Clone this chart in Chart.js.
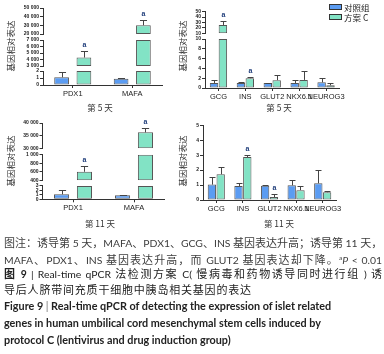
<!DOCTYPE html>
<html>
<head>
<meta charset="utf-8">
<script src="https://cdn.jsdelivr.net/npm/chart.js@4.4.0/dist/chart.umd.min.js"></script>
<style>
body{margin:0;width:384px;height:354px;overflow:hidden;background:#fff;position:relative;font-family:"Lato","Noto Sans CJK SC",sans-serif;}
canvas{position:absolute;}
.yt{position:absolute;font-family:"Noto Sans CJK SC";font-size:8.5px;color:#333;transform:translate(-50%,-50%) rotate(-90deg);white-space:nowrap;}
.xt{position:absolute;font-family:"Noto Sans CJK SC";font-size:8.5px;color:#333;transform:translate(-50%,-50%);white-space:nowrap;}
.lg{position:absolute;left:329px;font-family:"Noto Sans CJK SC";font-size:8.5px;color:#222;line-height:10px;white-space:nowrap;}
.lg span{display:inline-block;width:11px;height:4px;border:1px solid #333;margin-right:2px;vertical-align:1px;}
.cap{position:absolute;left:4px;font-family:"Noto Sans CJK SC";font-size:11px;line-height:13px;white-space:nowrap;}
.cap .e{font-family:"Lato";font-size:10.4px;}
.j{width:378px;text-align:justify;text-align-last:justify;}
.l1{color:#3c3c3c;}
.l2{color:#222;}
.en{font-family:"Lato";font-size:10.8px;font-weight:bold;color:#222;}
</style>
</head>
<body>
<canvas id="c5a" width="170" height="112" style="left:0;top:0"></canvas>
<canvas id="c5b" width="194" height="112" style="left:190px;top:0"></canvas>
<canvas id="c11a" width="170" height="115" style="left:0;top:112px"></canvas>
<canvas id="c11b" width="194" height="115" style="left:190px;top:112px"></canvas>

<div class="yt" style="left:9.5px;top:46px">基因相对表达</div>
<div class="yt" style="left:182px;top:46px">基因相对表达</div>
<div class="yt" style="left:9.5px;top:161px">基因相对表达</div>
<div class="yt" style="left:182px;top:161px">基因相对表达</div>
<div class="xt" style="left:100px;top:107px">第 5 天</div>
<div class="xt" style="left:279px;top:107px">第 5 天</div>
<div class="xt" style="left:100px;top:223px">第 11 天</div>
<div class="xt" style="left:279px;top:223px">第 11 天</div>

<div class="lg" style="top:2px"><span style="background:#5b9cf2"></span>对照组</div>
<div class="lg" style="top:11.5px"><span style="background:#82e3c5"></span>方案 C</div>

<div class="cap j l1" style="top:236px">图注：诱导第<span class="e"> 5 </span>天，<span class="e">MAFA</span>、<span class="e">PDX1</span>、<span class="e">GCG</span>、<span class="e">INS</span> 基因表达升高；诱导第<span class="e"> 11 </span>天，</div>
<div class="cap j l1" style="top:251px"><span class="e">MAFA</span>、<span class="e">PDX1</span>、<span class="e">INS</span> 基因表达升高，而<span class="e"> GLUT2 </span>基因表达却下降。<span class="e"><sup style="font-size:6.5px">a</sup><i>P</i> &lt; 0.01</span></div>
<div class="cap j l2" style="top:267px"><b>图<span class="e"> 9</span></b><span class="e"> | Real-time qPCR </span>法检测方案<span class="e"> C( </span>慢病毒和药物诱导同时进行组<span class="e"> ) </span>诱</div>
<div class="cap l2" style="top:283px;letter-spacing:0.8px">导后人脐带间充质干细胞中胰岛相关基因的表达</div>
<div class="cap en" style="top:299px">Figure 9 <span style="font-weight:normal;color:#777">|</span> Real-time qPCR of detecting the expression of islet related</div>
<div class="cap en" style="top:316px">genes in human umbilical cord mesenchymal stem cells induced by</div>
<div class="cap en" style="top:333px">protocol C (lentivirus and drug induction group)</div>

<script>
// day 5, PDX1 / MAFA
const genes5a = ['PDX1', 'MAFA'];
const ctrl5a = [1.1, 0.9];
const ctrl5aErr = [0.75, 0.04];
const progC5a = [4300, 30100];
const progC5aErr = [1000, 6200];
const sig5a = ['a', 'a'];
const breaks5a = [[0, 2], [3000, 7000], [20000, 50000]];
const steps5a = [1, 1000, 10000];

// day 5, other genes
const genes5b = ['GCG', 'INS', 'GLUT2', 'NKX6.1', 'NEUROG3'];
const ctrl5b = [1.0, 1.0, 1.0, 1.0, 1.15];
const ctrl5bErr = [0.6, 0.15, 0.05, 0.55, 0.9];
const progC5b = [25.4, 2.0, 1.6, 1.65, 0.55];
const progC5bErr = [6.8, 0.15, 1.1, 1.9, 0.4];
const sig5b = ['a', 'a', '', '', ''];
const breaks5b = [[0, 10], [10, 50]];
const steps5b = [2, 10];

// day 11, PDX1 / MAFA
const genes11a = ['PDX1', 'MAFA'];
const ctrl11a = [1.13, 0.9];
const ctrl11aErr = [0.9, 0.05];
const progC11a = [600, 36300];
const progC11aErr = [135, 1850];
const sig11a = ['a', 'a'];
const breaks11a = [[0, 3], [400, 1000], [30000, 40000]];
const steps11a = [1, 200, 5000];

// day 11, other genes
const genes11b = ['GCG', 'INS', 'GLUT2', 'NKX6.1', 'NEUROG3'];
const ctrl11b = [1.03, 0.94, 0.96, 0.98, 1.12];
const ctrl11bErr = [0.5, 0.18, 0.03, 0.36, 0.87];
const progC11b = [1.72, 2.88, 0.2, 0.66, 0.52];
const progC11bErr = [0.47, 0.13, 0.2, 0.28, 0.06];
const sig11b = ['', 'a', 'a', '', ''];
const breaks11b = [[0, 5]];
const steps11b = [1];

const blue = '#5b9cf2';
const mint = '#82e3c5';

function fmt(v) {
  return v >= 1000 ? String(v).replace(/\B(?=(\d{3})+(?!\d))/g, ' ') : String(v);
}

const errorBars = {
  id: 'errbars',
  afterDatasetsDraw(chart, args, opts) {
    const ctx = chart.ctx;
    const keys = Object.keys(chart.scales).filter(k => k[0] === 'y');
    const yPix = v => {
      let best = null;
      for (const k of keys) {
        const s = chart.scales[k];
        if (v >= s.min && v <= s.max) return s.getPixelForValue(v);
        if (v > s.max && (!best || s.max > best.max)) best = s;
      }
      return best ? best.getPixelForValue(best.max) : chart.chartArea.bottom;
    };
    opts.series.forEach(ser => {
      const meta = chart.getDatasetMeta(ser.first);
      ser.vals.forEach((v, i) => {
        const bar = meta.data[i];
        const x = Math.round(bar.x) + 0.5;
        const half = Math.max(3, bar.width * 0.24);
        const y0 = yPix(v), y1 = Math.round(yPix(v + ser.errs[i])) + 0.5;
        ctx.save();
        ctx.strokeStyle = '#444';
        ctx.lineWidth = 1;
        ctx.beginPath();
        ctx.moveTo(x, y0); ctx.lineTo(x, y1);
        ctx.moveTo(x - half, y1); ctx.lineTo(x + half, y1);
        ctx.stroke();
        if (ser.sig[i]) {
          ctx.fillStyle = '#1f3d7a';
          ctx.font = 'bold 7px "Liberation Sans"';
          ctx.textAlign = 'center';
          ctx.textBaseline = 'middle';
          ctx.fillText(ser.sig[i], x, y1 - 6);
        }
        ctx.restore();
      });
    });
  }
};

function drawPanel(id, genes, ctrl, ctrlErr, progC, progCErr, sig, breaks, steps, sizes, box) {
  const scales = {
    x: {
      type: 'category', offset: true,
      border: {color: '#333'},
      grid: {display: true, drawOnChartArea: false, offset: false, tickLength: 3, color: '#333'},
      ticks: {padding: 1, color: '#222', maxRotation: 0, autoSkip: false, font: {size: 7.5, family: 'Liberation Sans'}},
      afterFit: s => { s.height = box.xH; }
    }
  };
  const datasets = [];
  breaks.forEach((b, k) => {
    scales['y' + k] = {
      type: 'linear', position: 'left', stack: 'v', stackWeight: sizes[2 * k], weight: 10 + 2 * k,
      min: b[0], max: b[1], stacked: false,
      border: {color: '#333', width: 1},
      grid: {drawOnChartArea: false, tickLength: 3, color: '#333'},
      ticks: {stepSize: steps[k], autoSkip: false, padding: 1, color: '#222',
        font: {size: 5, weight: 'bold', family: 'Liberation Sans'}, callback: v => fmt(v)},
      afterFit: s => { s.width = box.axisW; }
    };
    if (k < breaks.length - 1) {
      scales['g' + k] = {type: 'linear', position: 'left', stack: 'v', stackWeight: sizes[2 * k + 1],
        weight: 11 + 2 * k, display: false, min: 0, max: 1};
    }
    [['ctrl', ctrl, blue], ['progC', progC, mint]].forEach(([name, vals, col]) => {
      datasets.push({
        label: name, stack: name, yAxisID: 'y' + k,
        data: vals.map(v => (k === 0 || v > b[0]) ? [b[0], Math.min(v, b[1])] : null),
        backgroundColor: col, borderColor: '#555', borderWidth: 1, borderSkipped: false,
        barPercentage: box.barP, categoryPercentage: box.catP
      });
    });
  });
  new Chart(document.getElementById(id), {
    type: 'bar',
    data: {labels: genes, datasets: datasets},
    options: {
      responsive: false, animation: false,
      layout: {padding: {top: box.padTop, right: box.padRight, left: 0, bottom: 0}},
      scales: scales,
      plugins: {
        legend: {display: false}, tooltip: {enabled: false},
        errbars: {series: [
          {first: 0, vals: ctrl, errs: ctrlErr, sig: genes.map(() => '')},
          {first: 1, vals: progC, errs: progCErr, sig: sig}
        ]}
      }
    },
    plugins: [errorBars]
  });
}

drawPanel('c5a', genes5a, ctrl5a, ctrl5aErr, progC5a, progC5aErr, sig5a, breaks5a, steps5a,
  [14, 5, 26, 6, 26], {axisW: 43, xH: 27, padTop: 8, padRight: 8, barP: 0.66, catP: 0.75});
drawPanel('c5b', genes5b, ctrl5b, ctrl5bErr, progC5b, progC5bErr, sig5b, breaks5b, steps5b,
  [49, 5.7, 21.6], {axisW: 15, xH: 24, padTop: 11.7, padRight: 44.5, barP: 0.95, catP: 0.66});
drawPanel('c11a', genes11a, ctrl11a, ctrl11aErr, progC11a, progC11aErr, sig11a, breaks11a, steps11a,
  [13.3, 5.7, 25.6, 6.4, 25.3], {axisW: 42.5, xH: 27.7, padTop: 11, padRight: 5.5, barP: 0.66, catP: 0.75});
drawPanel('c11b', genes11b, ctrl11b, ctrl11bErr, progC11b, progC11bErr, sig11b, breaks11b, steps11b,
  [75], {axisW: 13, xH: 27, padTop: 13.3, padRight: 48, barP: 0.95, catP: 0.66});
</script>
</body>
</html>
